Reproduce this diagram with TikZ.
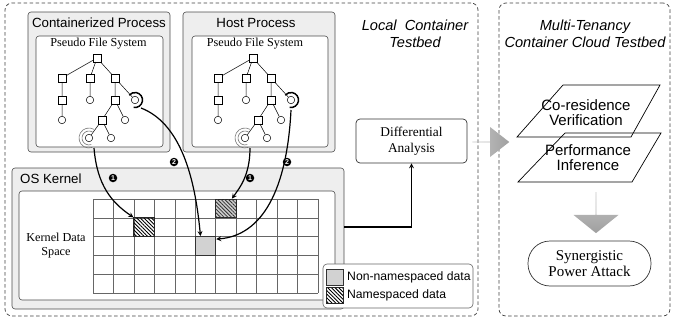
\documentclass[tikz,border=0pt]{standalone}
\usepackage{fontspec}
\setmainfont{Liberation Serif}
\setsansfont{Liberation Sans}
\usepackage{tikz}
\usetikzlibrary{shapes.geometric, shapes.arrows, arrows, patterns.meta, positioning}

\begin{document}
\begin{tikzpicture}[x=1pt, y=-1pt, >=stealth]

    % Define the styles for the nodes
    \tikzstyle{testbed} = [draw=black!75, dash pattern=on 3.5pt off 2.5pt, rounded corners=7pt, line width=0.7pt, inner sep=0pt]
    \tikzstyle{procbox} = [draw=black!70, fill=gray!13, rounded corners=3pt, line width=0.6pt, inner sep=0pt]
    \tikzstyle{fsbox} = [draw=black!70, fill=white, rounded corners=3pt, line width=0.6pt, inner sep=0pt]
    \tikzstyle{sanstitle} = [font=\sffamily\fontsize{13.3}{15}\selectfont, inner sep=0pt]
    \tikzstyle{testbedtitle} = [font=\sffamily\itshape\fontsize{14.6}{16.5}\selectfont, align=center, inner sep=0pt]
    \tikzstyle{seriftext} = [font=\fontsize{12.2}{14}\selectfont, align=center, inner sep=0pt]
    \tikzstyle{dirnode} = [draw, rectangle, minimum size=7.5pt, inner sep=0pt, fill=white, line width=0.5pt]
    \tikzstyle{filenode} = [draw, circle, minimum size=7.5pt, inner sep=0pt, fill=white, line width=0.5pt]
    \tikzstyle{gridcell} = [rectangle, minimum width=20.45pt, minimum height=18.8pt, inner sep=0pt]
    \tikzstyle{nsdata} = [draw=black!85, line width=0.8pt, pattern={Lines[angle=-45, distance=2.6pt, line width=0.9pt]}]
    \tikzstyle{nshost} = [draw=black!85, line width=0.8pt, fill=gray!40, postaction={pattern={Lines[angle=-45, distance=2.6pt, line width=0.8pt]}, pattern color=black!80}]
    \tikzstyle{sharedata} = [draw=black!80, line width=1pt, fill=gray!35]
    \tikzstyle{gridline} = [draw=black!60, line width=0.5pt]
    \tikzstyle{flow} = [->, line width=1.2pt]
    \tikzstyle{stepno} = [circle, fill=black, text=white, inner sep=0pt, minimum size=8.5pt, font=\sffamily\bfseries\fontsize{7}{7}\selectfont]
    \tikzstyle{roundbox} = [draw=black!80, fill=white, rounded corners=4pt, line width=0.7pt, align=center, inner sep=0pt]
    \tikzstyle{bigarrow} = [single arrow, inner sep=0pt, single arrow head indent=0pt]
    \tikzstyle{cloudtext} = [font=\sffamily\fontsize{15}{15}\selectfont, align=center, inner sep=0pt]
    \tikzstyle{legendtext} = [font=\sffamily\fontsize{12.2}{14}\selectfont, inner sep=0pt]

    \useasboundingbox (0,0) rectangle (673,324);

    % Testbeds
    \node[testbed, minimum width=473pt, minimum height=313pt] (local) at (241.5,159.5) {};
    \node[testbed, minimum width=171pt, minimum height=313pt] (cloud) at (584.5,159.5) {};
    \node[testbedtitle] (localtitle) at (415,34) {Local\ \ Container\\Testbed};
    \node[testbedtitle] (cloudtitle) at (585,34) {Multi-Tenancy\\Container Cloud Testbed};

    % Processes
    \node[procbox, minimum width=142pt, minimum height=140pt] (ctrproc) at (99,82) {};
    \node[procbox, minimum width=152pt, minimum height=140pt] (hostproc) at (259,82) {};
    \node[fsbox, minimum width=127pt, minimum height=111pt] (ctrfs) at (99.5,91.5) {};
    \node[fsbox, minimum width=136pt, minimum height=111pt] (hostfs) at (260,91.5) {};
    \node[sanstitle] (ctrtitle) at (99,23) {Containerized Process};
    \node[sanstitle] (hosttitle) at (256,23) {Host Process};
    \node[seriftext] (ctrfstitle) at (98.5,44) {Pseudo File System};
    \node[seriftext] (hostfstitle) at (255,44) {Pseudo File System};

    % Kernel
    \node[procbox, minimum width=332pt, minimum height=141pt] (kernel) at (178,238.5) {};
    \node[fsbox, minimum width=316pt, minimum height=109pt] (kernelspace) at (177,245.5) {};
    \node[sanstitle, anchor=west] (kerneltitle) at (20,179) {OS Kernel};
    \node[seriftext] (kdslabel) at (56,246) {Kernel Data\\Space};

    \foreach \i in {0,...,11}
        \draw[gridline] (93+\i*20.45,199) -- (93+\i*20.45,293);
    \foreach \j in {0,...,5}
        \draw[gridline] (93,199+\j*18.8) -- (318,199+\j*18.8);
    \node[gridcell, nsdata] (nsc1) at (144.1,227.2) {};
    \node[gridcell, nshost] (nsc2) at (225.9,208.4) {};
    \node[gridcell, sharedata] (shc) at (205.5,246) {};

    % Legend
    \node[fsbox, draw=black!60, rounded corners=4pt, minimum width=150pt, minimum height=44pt] (legend) at (398,286) {};
    \node[sharedata, minimum width=17pt, minimum height=16pt, inner sep=0pt] (key1) at (334.5,277.5) {};
    \node[nsdata, minimum width=17pt, minimum height=16pt, inner sep=0pt] (key2) at (334.5,295) {};
    \node[legendtext, right=3.5pt of key1] (key1text) {Non-namespaced data};
    \node[legendtext, right=3.5pt of key2] (key2text) {Namespaced data};

    % Pseudo file system trees
    \foreach \t/\dx in {c/0, h/156} {
        \begin{scope}[xshift=\dx pt]
            \node[dirnode] (\t-root) at (97,58) {};
            \node[dirnode] (\t-a1) at (62,78) {};
            \node[dirnode] (\t-b1) at (90,78) {};
            \node[dirnode] (\t-c1) at (115,78) {};
            \node[dirnode] (\t-a2) at (62,100) {};
            \node[filenode] (\t-b2) at (90,100) {};
            \node[dirnode] (\t-c2) at (115,100) {};
            \node[filenode] (\t-d2) at (135,100) {};
            \node[filenode] (\t-a3) at (62,120) {};
            \node[dirnode] (\t-c3) at (102,120) {};
            \node[filenode] (\t-e3) at (125,120) {};
            \node[filenode] (\t-c4) at (89,138) {};
            \node[filenode] (\t-e4) at (111,138) {};
            \draw[line width=0.5pt] (\t-root) -- (\t-a1) (\t-root) -- (\t-b1) (\t-root) -- (\t-c1)
                (\t-a1) -- (\t-a2) -- (\t-a3) (\t-b1) -- (\t-b2) (\t-c1) -- (\t-c2) (\t-c1) -- (\t-d2)
                (\t-c2) -- (\t-c3) (\t-c2) -- (\t-e3) (\t-c3) -- (\t-c4) (\t-c3) -- (\t-e4);
            \draw[line width=1.5pt] ([shift={(100:7.5)}]\t-d2.center) arc[start angle=100, end angle=-140, radius=7.5];
            \draw[black!55, line width=0.6pt] ([shift={(-60:7)}]\t-c4.center) arc[start angle=-60, end angle=-290, radius=7];
            \draw[black!55, line width=0.6pt] ([shift={(-60:10)}]\t-c4.center) arc[start angle=-60, end angle=-290, radius=10];
        \end{scope}
    }

    % Arrows
    \coordinate (c-out1) at ([shift={(5,10)}]c-c4.center);
    \coordinate (h-out1) at ([shift={(5,10)}]h-c4.center);
    \coordinate (c-out2) at ([shift={(6,8)}]c-d2.center);
    \coordinate (h-out2) at ([shift={(0,10)}]h-d2.center);
    \draw[flow] (c-out1) .. controls +(3,37) and +(-22,-15) .. (nsc1.north west);
    \draw[flow] (c-out2) .. controls +(44,17) and +(-4.5,-46.6) .. ([xshift=-5pt]shc.north);
    \draw[flow] (h-out1) .. controls +(0,27) and +(8,-11) .. ([xshift=6pt]nsc2.north);
    \draw[flow] (h-out2) .. controls +(-4,80) and +(46,-3.6) .. ([yshift=-3pt]shc.north east);
    \node[stepno] (c-no1) at (113,178) {1};
    \node[stepno] (h-no1) at (250,178) {1};
    \node[stepno] (c-no2) at (174,162) {2};
    \node[stepno] (h-no2) at (287,162) {2};

    % Differential analysis
    \node[roundbox, minimum width=111pt, minimum height=44pt, font=\fontsize{13.4}{16}\selectfont] (diff) at (411.5,141) {Differential\\Analysis};
    \draw[flow] ([yshift=11.5pt]kernel.east) -| (diff.south);
    \node[bigarrow, minimum height=37pt, minimum width=30pt, single arrow head extend=7pt, single arrow tip angle=76, left color=gray!45, right color=gray!75] (tocloud) at (490.5,142) {};

    % Cloud testbed
    \draw[line width=0.7pt] (518,182) -- (632,182) -- (661,133) -- (565,133) -- cycle;
    \draw[line width=0.7pt] (517,137) -- (631,137) -- (660,85) -- (563,85) -- cycle;
    \node[cloudtext] (coresid) at (586,113) {Co-residence\\Verification};
    \node[cloudtext] (perf) at (588,158) {Performance\\Inference};
    \node[bigarrow, shape border rotate=270, minimum height=41pt, minimum width=45pt, single arrow head extend=12pt, single arrow tip angle=102, top color=gray!45, bottom color=gray!75] (toattack) at (596,212.5) {};
    \node[roundbox, rounded corners=22pt, minimum width=123pt, minimum height=45pt, font=\fontsize{15}{16.5}\selectfont] (attack) at (589.5,263.5) {Synergistic\\Power Attack};

\end{tikzpicture}
\end{document}
